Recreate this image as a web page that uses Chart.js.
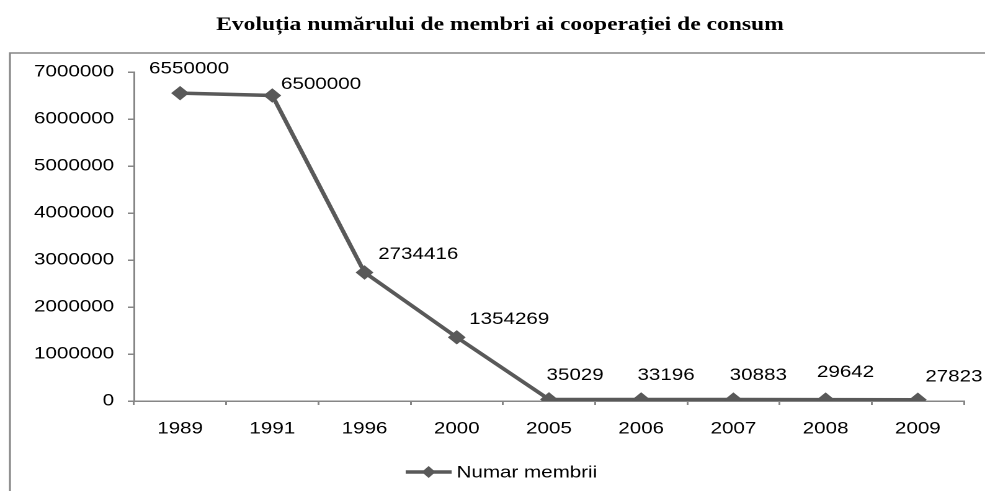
<!DOCTYPE html>
<html>
<head>
<meta charset="utf-8">
<script src="https://cdn.jsdelivr.net/npm/chart.js@4"></script>
<style>
  html, body { margin: 0; padding: 0; background: #fff; overflow: hidden; }
  #wrap { position: absolute; left: 0; top: 0; width: 794px; height: 491px; transform: scaleX(1.2406); transform-origin: 0 0; }
  canvas { display: block; }
</style>
</head>
<body>
<div id="wrap"><canvas id="c" width="794" height="491"></canvas></div>
<script>
const categories = ['1989', '1991', '1996', '2000', '2005', '2006', '2007', '2008', '2009'];
const membri = [6550000, 6500000, 2734416, 1354269, 35029, 33196, 30883, 29642, 27823];
const seriesName = 'Numar membrii';
const chartTitle = 'Evoluția numărului de membri ai cooperației de consum';
const yTicks = [0, 1000000, 2000000, 3000000, 4000000, 5000000, 6000000, 7000000];

const LINE = '#595959';
const AXIS = '#868686';
const FONT = '"Liberation Sans", Arial, sans-serif';
const FS = 16.6;

const decor = {
  id: 'decor',
  beforeDraw(chart) {
    const ctx = chart.ctx;
    ctx.save();
    // frame
    ctx.strokeStyle = AXIS;
    ctx.lineWidth = 1.5;
    ctx.beginPath();
    ctx.moveTo(8, 495);
    ctx.lineTo(8, 53);
    ctx.lineTo(800, 53);
    ctx.stroke();
    // title
    ctx.fillStyle = '#000';
    ctx.font = 'bold 19px "Liberation Serif", "Times New Roman", serif';
    ctx.textAlign = 'center';
    ctx.textBaseline = 'middle';
    ctx.fillText(chartTitle, 403, 25);
    ctx.restore();
  },
  afterDatasetsDraw(chart) {
    const ctx = chart.ctx;
    const meta = chart.getDatasetMeta(0);
    const dx = [-25, 7, 11, 10, -2, -3, -3, -7, 6];
    const dy = [-24, -11, -18, -18, -24, -24, -24, -27, -23];
    ctx.save();
    ctx.fillStyle = '#000';
    ctx.font = FS + 'px ' + FONT;
    ctx.textAlign = 'left';
    ctx.textBaseline = 'middle';
    meta.data.forEach((pt, i) => {
      ctx.fillText(String(membri[i]), pt.x + dx[i], pt.y + dy[i]);
    });
    // legend
    const ly = 472;
    ctx.strokeStyle = LINE;
    ctx.lineWidth = 3.5;
    ctx.beginPath();
    ctx.moveTo(327, ly);
    ctx.lineTo(364, ly);
    ctx.stroke();
    ctx.fillStyle = LINE;
    ctx.beginPath();
    ctx.moveTo(345.5 - 5.5, ly);
    ctx.lineTo(345.5, ly - 6);
    ctx.lineTo(345.5 + 5.5, ly);
    ctx.lineTo(345.5, ly + 6);
    ctx.closePath();
    ctx.fill();
    ctx.fillStyle = '#000';
    ctx.fillText(seriesName, 368, ly + 1);
    ctx.restore();
  }
};

new Chart(document.getElementById('c'), {
  type: 'line',
  data: {
    labels: categories,
    datasets: [{
      label: seriesName,
      data: membri,
      borderColor: LINE,
      backgroundColor: LINE,
      borderWidth: 3.5,
      pointStyle: 'rectRot',
      pointRadius: 6.5,
      pointBorderWidth: 1,
      pointBorderColor: LINE,
      pointBackgroundColor: LINE,
      tension: 0,
      fill: false
    }]
  },
  options: {
    responsive: false,
    devicePixelRatio: 2,
    animation: false,
    layout: { padding: { left: 0, top: 72, right: 17, bottom: 40 } },
    plugins: {
      legend: { display: false },
      title: { display: false },
      tooltip: { enabled: false }
    },
    scales: {
      x: {
        offset: true,
        grid: { display: true, drawOnChartArea: false, drawTicks: true, offset: true, tickLength: 4, color: AXIS, lineWidth: 1.5 },
        border: { display: true, color: AXIS, width: 1.5 },
        ticks: { color: '#000', font: { family: FONT, size: FS }, padding: 14, maxRotation: 0 },
        afterFit(scale) { scale.height = 50; }
      },
      y: {
        min: 0,
        max: 7000000,
        afterBuildTicks(scale) { scale.ticks = yTicks.map(v => ({ value: v })); },
        grid: { display: true, drawOnChartArea: false, drawTicks: true, tickLength: 5, color: AXIS, lineWidth: 1.5 },
        border: { display: true, color: AXIS, width: 1.5 },
        ticks: { color: '#000', font: { family: FONT, size: FS }, padding: 11, callback: v => String(v) },
        afterFit(scale) { scale.width = 108; }
      }
    }
  },
  plugins: [decor]
});
</script>
</body>
</html>
